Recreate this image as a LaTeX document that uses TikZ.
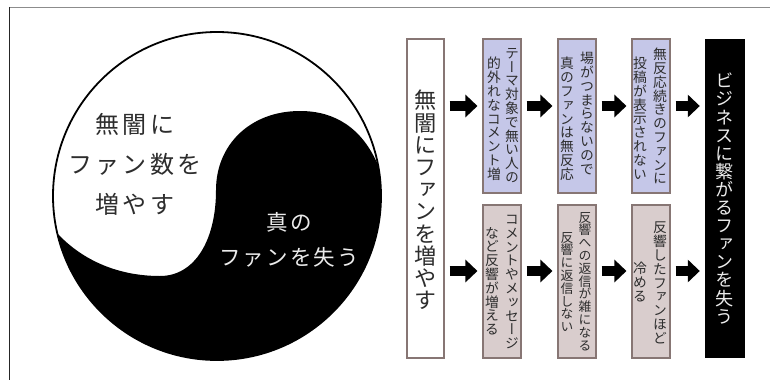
\documentclass[tikz,border=0pt]{standalone}
\usepackage{fontspec}
\usepackage{graphicx}
\usetikzlibrary{arrows.meta}
\newfontfamily\jp{Noto Sans CJK JP}
\newfontfamily\jpv{Noto Sans CJK JP}[RawFeature=+vert]
\definecolor{topfill}{RGB}{197,199,232}
\definecolor{botfill}{RGB}{217,205,205}
\definecolor{boxborder}{RGB}{135,118,116}
\definecolor{txtdark}{RGB}{45,45,45}
\definecolor{txtlight}{RGB}{235,235,235}
\definecolor{framegray}{RGB}{140,140,140}
\newdimen\myhpitch
\def\hcloop#1{\ifx\relax#1\else\hbox to\myhpitch{\hss#1\hss}\expandafter\hcloop\fi}
\newcommand\hcx[2]{\myhpitch=#1\relax\hcloop#2\relax}
\def\vcloop#1{\ifx\relax#1\else\hbox to 1em{\hss#1\hss}\expandafter\vcloop\fi}
\newcommand\vcx[1]{\vbox{\lineskiplimit=-100pt\vcloop#1\relax}}
\begin{document}
\begin{tikzpicture}[x=1pt,y=-1pt,
  boxline/.style={draw=boxborder, line width=1.1pt},
  topbox/.style={boxline, fill=topfill, minimum width=38pt, minimum height=154pt, inner sep=0pt},
  botbox/.style={boxline, fill=botfill, minimum width=38pt, minimum height=153pt, inner sep=0pt},
  vtext/.style={anchor=north, inner sep=0pt, text=txtdark, font=\jpv\fontsize{13.8}{13.8}\selectfont},
  bigarrow/.style={line width=10pt, -{Triangle[length=12pt,width=22pt]}, shorten <=5pt, shorten >=5pt},
]
\useasboundingbox (0,0) rectangle (770,380);
% frame
\draw[framegray, line width=1.5pt] (9,7.5) -- (770,7.5);
\draw[black!85, line width=1.6pt] (9.3,6.75) -- (9.3,380);
% yin-yang
\fill[black] (378,165) .. controls (362,128) and (335,111) .. (300,111)
  .. controls (250,111) and (216,145) .. (216,190)
  .. controls (216,240) and (195,276) .. (160,276)
  .. controls (115,276) and (80,258) .. (57,233)
  arc[start angle=167, end angle=-11, radius=164] -- cycle;
\draw[line width=1.8pt] (217,196) circle[radius=164];
\node[align=center, text=txtdark, inner sep=0pt, font=\jp\fontsize{24}{40}\selectfont] (ytw) at (135,164)
  {\hcx{27.2pt}{無闇に}\\\hcx{27.2pt}{ファン数を}\\\hcx{27.2pt}{増やす}};
\node[align=center, text=txtlight, inner sep=0pt, font=\jp\fontsize{21.5}{35}\selectfont] (ytb) at (289,240)
  {\hcx{23.7pt}{真の}\\\hcx{23.7pt}{ファンを失う}};
% boxes
\node[boxline, fill=white, minimum width=37pt, minimum height=319pt, inner sep=0pt] (b1) at (425.5,198.5) {};
\node[topbox] (a2) at (502,116) {};
\node[topbox] (a3) at (577,116) {};
\node[topbox] (a4) at (651,116) {};
\node[botbox] (c2) at (502,281.5) {};
\node[botbox] (c3) at (577,281.5) {};
\node[botbox] (c4) at (651,281.5) {};
\node[fill=black, minimum width=40pt, minimum height=319pt, inner sep=0pt] (e) at (725,198.5) {};
% texts
\node[vtext, font=\jpv\fontsize{22.2}{22.2}\selectfont] (b1t) at (425.5,90) {\vcx{無闇にファンを増やす}};
\node[vtext] (a2r) at (512,48) {\vcx{テーマ対象で無い人の}};
\node[vtext] (a2l) at (494,57) {\vcx{的外れなコメント増}};
\node[vtext] (a3r) at (587,52) {\vcx{場がつまらないので}};
\node[vtext] (a3l) at (567,57) {\vcx{真のファンは無反応}};
\node[vtext] (a4r) at (660,48) {\vcx{無反応続きのファンに}};
\node[vtext] (a4l) at (640,57) {\vcx{投稿が表示されない}};
\node[vtext] (c2r) at (512,215) {\vcx{コメントやメッセージ}};
\node[vtext] (c2l) at (492,227) {\vcx{など反響が増える}};
\node[vtext, font=\jpv\fontsize{12.8}{12.8}\selectfont] (c3r) at (585,212) {\vcx{反響への返信が雑になる}};
\node[vtext, font=\jpv\fontsize{12.8}{12.8}\selectfont] (c3l) at (567,232) {\vcx{反響に返信しない}};
\node[vtext] (c4r) at (660,222) {\vcx{反響したファンほど}};
\node[vtext] (c4l) at (640,262) {\vcx{冷める}};
\node[vtext, text=txtlight, font=\jpv\fontsize{18.1}{18.1}\selectfont] (et) at (725,73) {\vcx{ビジネスに繋がるファンを失う}};
% arrows
\coordinate (r1) at (0,106);
\coordinate (r2) at (0,271);
\draw[bigarrow] (b1.east |- r1) -- (a2.west |- r1);
\draw[bigarrow] (a2.east |- r1) -- (a3.west |- r1);
\draw[bigarrow] (a3.east |- r1) -- (a4.west |- r1);
\draw[bigarrow] (a4.east |- r1) -- (e.west |- r1);
\draw[bigarrow] (b1.east |- r2) -- (c2.west |- r2);
\draw[bigarrow] (c2.east |- r2) -- (c3.west |- r2);
\draw[bigarrow] (c3.east |- r2) -- (c4.west |- r2);
\draw[bigarrow] (c4.east |- r2) -- (e.west |- r2);
\end{tikzpicture}
\end{document}
